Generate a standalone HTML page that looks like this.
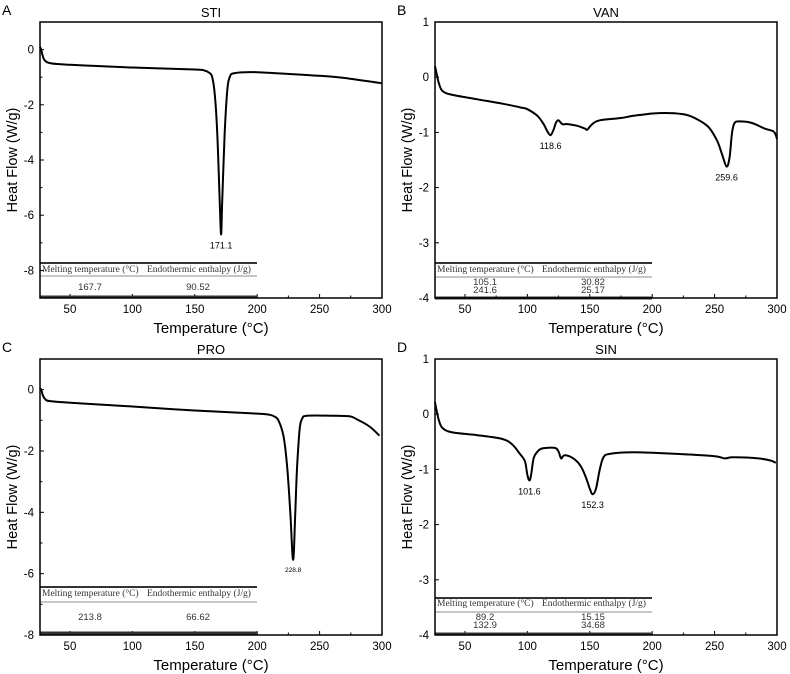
<!DOCTYPE html>
<html><head><meta charset="utf-8"><style>
body{margin:0;background:#fff;}
svg{display:block;font-family:"Liberation Sans",sans-serif;}
</style></head><body>
<svg id="fig" width="790" height="674" viewBox="0 0 790 674"></svg>
<script>
const stiT=[26,27,28,30,35,50,100,150,158,162,164,166,168,170,171.1,172,174,176,178,182,200,250,270,300];
const stiH=[0.1,0,-0.2,-0.4,-0.5,-0.55,-0.65,-0.72,-0.76,-0.85,-1.0,-1.6,-3.0,-5.5,-6.7,-5.5,-3.0,-1.5,-1.0,-0.85,-0.82,-0.95,-1.03,-1.22];
const vanT=[26,27,29,32,40,60,80,95,100,108,113,116,118.6,121,123,125,128,132,140,146,148,152,158,175,185,205,225,235,245,252,256,259.6,262,264,266,270,280,290,297,299,300];
const vanH=[0.2,0.1,-0.1,-0.25,-0.32,-0.4,-0.48,-0.55,-0.58,-0.7,-0.85,-0.98,-1.05,-0.95,-0.82,-0.78,-0.85,-0.85,-0.88,-0.93,-0.95,-0.85,-0.78,-0.74,-0.7,-0.65,-0.67,-0.75,-0.9,-1.15,-1.4,-1.62,-1.45,-1.0,-0.83,-0.8,-0.83,-0.93,-0.98,-1.05,-1.12];
const proT=[26,27,28,30,35,60,100,150,200,210,214,217,221,224,226.5,228.8,230.5,232,234,236,240,260,274,280,290,298];
const proH=[0.05,0,-0.15,-0.3,-0.38,-0.45,-0.55,-0.68,-0.78,-0.82,-0.88,-1.0,-1.5,-2.5,-4.0,-5.55,-4.0,-2.5,-1.3,-0.95,-0.85,-0.85,-0.87,-0.97,-1.2,-1.5];
const sinT=[26,27,29,32,40,60,80,88,94,98,100,101.6,103,105,108,112,122,125,127,129,132,138,143,147,150,152.3,155,158,161,166,185,220,250,258,265,285,295,299];
const sinH=[0.22,0.1,-0.1,-0.25,-0.33,-0.38,-0.45,-0.55,-0.72,-0.85,-1.1,-1.2,-1.1,-0.8,-0.68,-0.62,-0.61,-0.68,-0.8,-0.75,-0.75,-0.82,-0.95,-1.15,-1.35,-1.45,-1.35,-1.0,-0.78,-0.72,-0.69,-0.72,-0.76,-0.8,-0.78,-0.8,-0.84,-0.88];
const xTicks=[50,100,150,200,250,300];
const NS="http://www.w3.org/2000/svg";
const svg=document.getElementById('fig');
function mk(tag,at,parent,txt){const e=document.createElementNS(NS,tag);for(const k in at)e.setAttribute(k,at[k]);if(txt!==undefined)e.textContent=txt;(parent||svg).appendChild(e);return e;}
function smooth(pts){let d='M'+pts[0][0].toFixed(1)+','+pts[0][1].toFixed(1);
  for(let i=0;i<pts.length-1;i++){const p0=pts[i-1]||pts[i],p1=pts[i],p2=pts[i+1],p3=pts[i+2]||p2;
    const c1=[p1[0]+(p2[0]-p0[0])/6,p1[1]+(p2[1]-p0[1])/6],c2=[p2[0]-(p3[0]-p1[0])/6,p2[1]-(p3[1]-p1[1])/6];
    d+=` C${c1[0].toFixed(1)},${c1[1].toFixed(1)} ${c2[0].toFixed(1)},${c2[1].toFixed(1)} ${p2[0].toFixed(1)},${p2[1].toFixed(1)}`;}
  return d;}
const panels=[
 {id:'a',letter:'A',title:'STI',ox:0,oy:0,ymin:-9,ymax:1,ystep:2,T:stiT,H:stiH,peaks:[[171.1,-6.7,'171.1',14,9]],
  tab:{top:263,hy:272,thin:276,rows:['167.7|90.52'],ry:[290],bot:297}},
 {id:'b',letter:'B',title:'VAN',ox:395,oy:0,ymin:-4,ymax:1,ystep:1,T:vanT,H:vanH,peaks:[[118.6,-1.05,'118.6',14,9],[259.6,-1.62,'259.6',14,9]],
  tab:{top:263,hy:272,thin:277,rows:['105.1|30.82','241.6|25.17'],ry:[285,293],bot:298}},
 {id:'c',letter:'C',title:'PRO',ox:0,oy:337,ymin:-8,ymax:1,ystep:2,T:proT,H:proH,peaks:[[228.8,-5.55,'228.8',12,6.5]],
  tab:{top:587,hy:596,thin:602,rows:['213.8|66.62'],ry:[620],bot:633}},
 {id:'d',letter:'D',title:'SIN',ox:395,oy:337,ymin:-4,ymax:1,ystep:1,T:sinT,H:sinH,peaks:[[101.6,-1.2,'101.6',14,9],[152.3,-1.45,'152.3',14,9]],
  tab:{top:598,hy:606,thin:612,rows:['89.2|15.15','132.9|34.68'],ry:[620,628],bot:634}}
];
panels.forEach(p=>{
  const L=p.ox+40,R=p.ox+382,Tp=p.oy+22,B=p.oy+298;
  const sx=t=>L+(t-26)*(R-L)/(300-26);
  const sy=v=>Tp+(p.ymax-v)*(B-Tp)/(p.ymax-p.ymin);
  const g=mk('g',{});
  
  
  const lt=mk('text',{x:p.ox+2,y:p.oy+15,'font-size':14},g,p.letter);
  
  const ti=mk('text',{x:(L+R)/2,y:p.oy+17,'font-size':13,'text-anchor':'middle'},g,p.title);
  
  for(let t=50;t<=300;t+=25){const x=sx(t),maj=t%50===0;mk('line',{x1:x,x2:x,y1:B,y2:B-(maj?4:2.5),stroke:'#000','stroke-width':1},g);}
  xTicks.forEach(t=>{const e=mk('text',{x:sx(t),y:B+15,'font-size':11.5,'text-anchor':'middle'},g,t);
    });
  for(let v=p.ymin;v<=p.ymax;v++){const y=sy(v);
    const isMaj=p.ystep===1?true:(v%2===0);
    mk('line',{x1:L,x2:L+(isMaj?4:2.5),y1:y,y2:y,stroke:'#000','stroke-width':1},g);
    if(isMaj){const e=mk('text',{x:L-6,y:y+4,'font-size':11.5,'text-anchor':'end'},g,v);
      }
  }
  const xt=mk('text',{x:(L+R)/2,y:p.oy+333,'font-size':15,'text-anchor':'middle'},g,'Temperature (°C)');
  
  const yt=mk('text',{x:0,y:0,'font-size':14.5,'text-anchor':'middle',transform:`translate(${p.ox+17},${(Tp+B)/2}) rotate(-90)`},g,'Heat Flow (W/g)');
  
  const tb=p.tab,tR=p.ox+257;
  mk('line',{x1:L,x2:tR,y1:tb.top,y2:tb.top,stroke:'#333','stroke-width':2},g);
  mk('line',{x1:L,x2:tR,y1:tb.thin,y2:tb.thin,stroke:'#666','stroke-width':0.8},g);
  mk('line',{x1:L,x2:tR,y1:tb.bot,y2:tb.bot,stroke:'#333','stroke-width':3},g);
  const h1=mk('text',{x:L+2,y:tb.hy,'font-size':9.5,fill:'#333','font-family':'Liberation Serif,serif'},g,'Melting temperature (°C)');
  
  const h2=mk('text',{x:L+107,y:tb.hy,'font-size':9.5,fill:'#333','font-family':'Liberation Serif,serif'},g,'Endothermic enthalpy (J/g)');
  
  tb.rows.forEach((r,i)=>{const [a,b]=r.split('|');
    const e1=mk('text',{x:L+50,y:tb.ry[i],'font-size':9.5,fill:'#333','text-anchor':'middle'},g,a);
    
    const e2=mk('text',{x:L+158,y:tb.ry[i],'font-size':9.5,fill:'#333','text-anchor':'middle'},g,b);
    });
  const pts=p.T.map((t,i)=>[sx(t),sy(p.H[i])]);
  const c=mk('path',{d:smooth(pts),fill:'none',stroke:'#000','stroke-width':2,'stroke-linejoin':'round'},g);
  
  p.peaks.forEach(pk=>{const e=mk('text',{x:sx(pk[0]),y:sy(pk[1])+pk[3],'font-size':pk[4],'text-anchor':'middle'},g,pk[2]);
    });
  const fr=mk('rect',{x:L,y:Tp,width:R-L,height:B-Tp,fill:'none',stroke:'#000','stroke-width':1.5},g);
  
});
</script>
</body></html>
